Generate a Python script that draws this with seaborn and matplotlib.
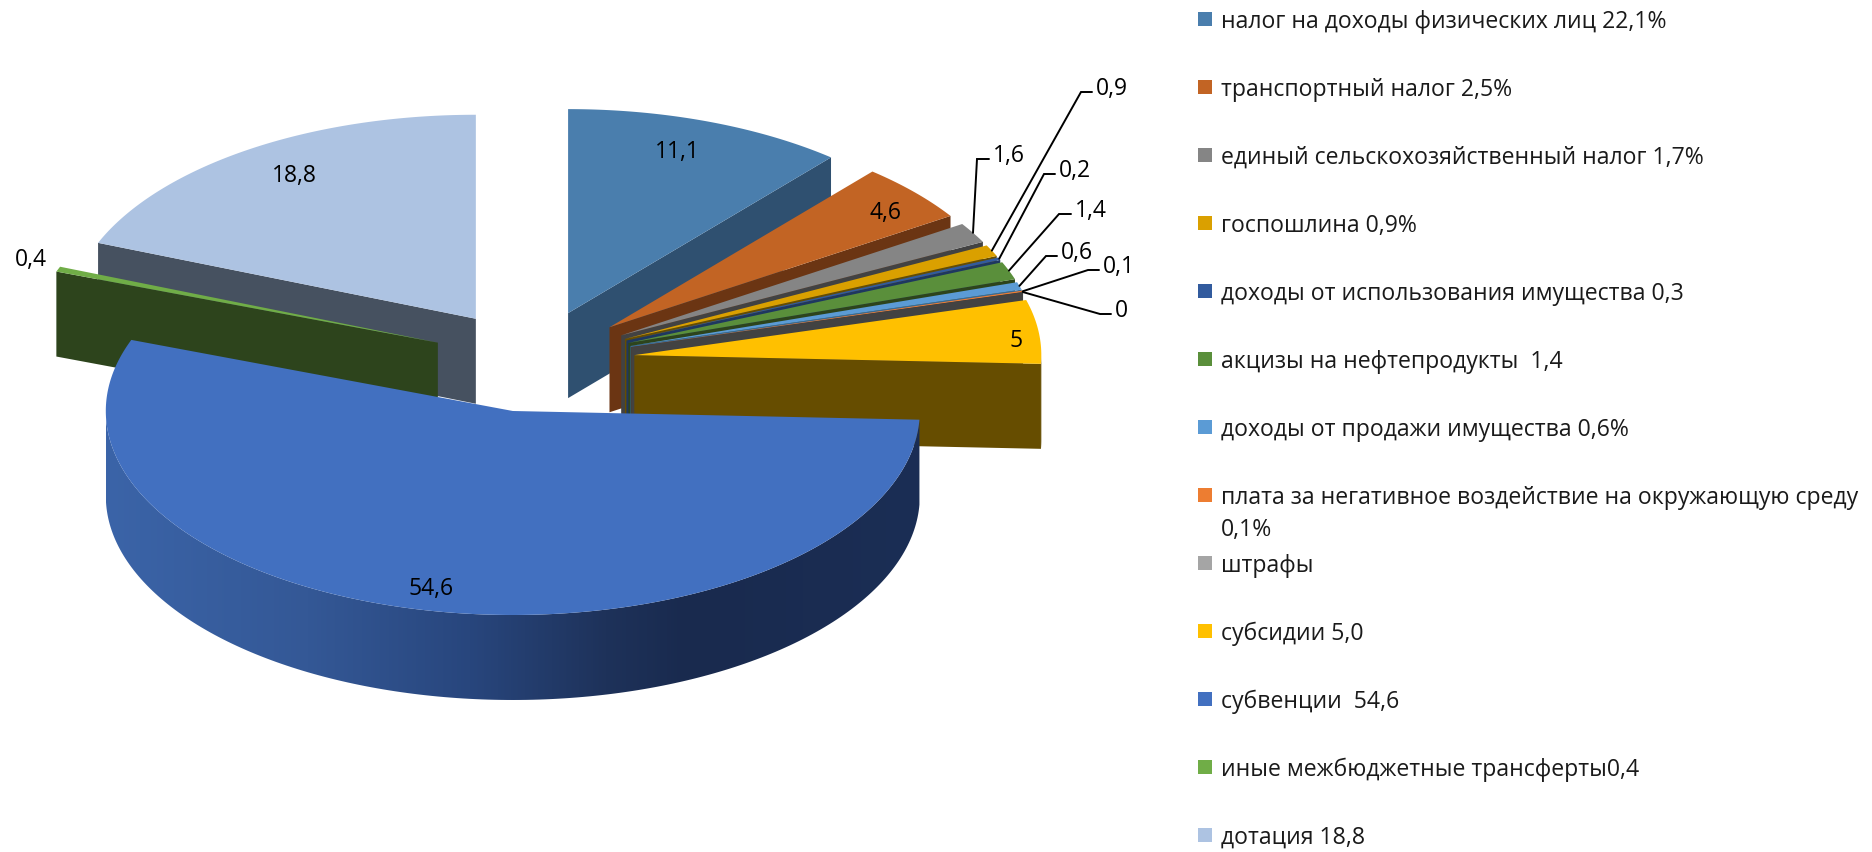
#!/usr/bin/env python3

import numpy as np
import seaborn as sns
import matplotlib.pyplot as plt
from matplotlib.colors import to_rgb
from matplotlib.patches import Polygon

sns.set_theme(style="white")
plt.rcParams["font.family"] = ["Open Sans", "DejaVu Sans"]

# values of the slices, clockwise from the top
values = [11.1, 4.6, 1.6, 0.9, 0.2, 1.4, 0.6, 0.1, 0.0, 5.0, 54.6, 0.4, 18.8]
value_labels = ["11,1", "4,6", "1,6", "0,9", "0,2", "1,4", "0,6", "0,1", "0", "5", "54,6", "0,4", "18,8"]
legend_labels = [
    "налог на доходы физических лиц 22,1%",
    "транспортный налог 2,5%",
    "единый сельскохозяйственный налог 1,7%",
    "госпошлина 0,9%",
    "доходы от использования имущества 0,3",
    "акцизы на нефтепродукты  1,4",
    "доходы от продажи имущества 0,6%",
    "плата за негативное воздействие на окружающую среду\n0,1%",
    "штрафы",
    "субсидии 5,0",
    "субвенции  54,6",
    "иные межбюджетные трансферты0,4",
    "дотация 18,8",
]
colors = ["#4A7EAD", "#C26424", "#858585", "#DAA000", "#325B9E", "#5A8F3B", "#5B9BD5",
          "#ED7D31", "#A5A5A5", "#FFC000", "#4270C0", "#70AD47", "#ADC3E2"]
face_colors = ["#2F5070", "#6B3513", "#424242", "#664D00", "#1E3760", "#2D441C", "#3A6A96",
               "#5F3214", "#424242", "#664D00", "#1E3760", "#2D441C", "#465160"]

# pie geometry in figure pixels
center = (533, 361)
rx, ry, depth = 407, 204, 85
explode = 102
squash = 0.50

# leader lines: index of slice, elbow, end of line
leaders = {
    2: ((977, 159), (989, 159)),
    3: ((1081, 92), (1092, 92)),
    4: ((1044, 174), (1055, 174)),
    5: ((1059, 214), (1071, 214)),
    6: ((1046, 256), (1057, 256)),
    7: ((1088, 270), (1099, 270)),
    8: ((1100, 314), (1111, 314)),
}
# labels sitting on or next to their slice
label_pos = {0: (677, 149), 1: (885, 210), 9: (1016, 338), 10: (431, 586), 11: (31, 257), 12: (294, 173)}

# shading of the big slice's outer wall, left to right
side_x = [106, 307, 470, 606, 687, 919]
side_rgb = ["#3B64A8", "#345896", "#28467D", "#1E325A", "#192A4E", "#1B2E55"]

fig, ax = plt.subplots(figsize=(18.72, 8.52), dpi=100)
fig.subplots_adjust(0, 0, 1, 1)
ax.axis("off")

total = sum(values)
edges = np.cumsum([0] + values) / total * 2 * np.pi
big = int(np.argmax(values))


def apex_of(i):
    mid = (edges[i] + edges[i + 1]) / 2
    return center[0] + explode * np.sin(mid), center[1] - explode * squash * np.cos(mid)


def rim(i, a):
    x0, y0 = apex_of(i)
    return x0 + rx * np.sin(a), y0 - ry * np.cos(a)


def draw_wall(i, lo, hi):
    aa = np.linspace(lo, hi, 200)
    xs, ys = rim(i, aa)
    pts = np.column_stack([np.r_[xs, xs[::-1]], np.r_[ys, ys[::-1] + depth]])
    if i != big:
        ax.fill(pts[:, 0], pts[:, 1], color=face_colors[i], lw=0)
        return
    stops = np.array([to_rgb(c) for c in side_rgb])
    grid = np.linspace(xs.min(), xs.max(), 600)
    ramp = np.stack([np.interp(grid, side_x, stops[:, k]) for k in range(3)], axis=-1)[None, :, :]
    im = ax.imshow(ramp, extent=(xs.min(), xs.max(), ys.max() + depth + 2, ys.min()),
                   aspect="auto", interpolation="bilinear", zorder=1)
    shape = Polygon(pts, closed=True, transform=ax.transData, fc="none", ec="none")
    ax.add_patch(shape)
    im.set_clip_path(shape)


def draw_slice(i):
    x0, y0 = apex_of(i)
    a0, a1 = edges[i], edges[i + 1]
    # cut faces turned to the viewer
    if a1 < np.pi:
        xe, ye = rim(i, a1)
        ax.fill([x0, xe, xe, x0], [y0, ye, ye + depth, y0 + depth], color=face_colors[i], lw=0)
    if a0 > np.pi:
        xe, ye = rim(i, a0)
        ax.fill([x0, xe, xe, x0], [y0, ye, ye + depth, y0 + depth], color=face_colors[i], lw=0)
    # outer wall, only the front half shows
    lo, hi = max(a0, np.pi / 2), min(a1, 3 * np.pi / 2)
    if hi > lo:
        draw_wall(i, lo, hi)
    # top
    aa = np.linspace(a0, a1, max(2, int((a1 - a0) * 80)))
    xs, ys = rim(i, aa)
    ax.fill(np.r_[x0, xs], np.r_[y0, ys], color=colors[i], lw=0)


for i in [12, 11, 0, 1, 2, 3, 4, 5, 6, 7, 8, 9, 10]:
    draw_slice(i)

for i, (x, y) in label_pos.items():
    ax.text(x, y + 3, value_labels[i], ha="center", va="center", fontsize=16.5, color="black")

for i, (elbow, end) in leaders.items():
    xs, ys = rim(i, (edges[i] + edges[i + 1]) / 2)
    ax.plot([xs, elbow[0], end[0]], [ys, elbow[1], end[1]], color="black", lw=1.4, solid_joinstyle="miter")
    ax.text(end[0] + 4, end[1] - 3, value_labels[i], ha="left", va="center", fontsize=16.5, color="black")

# legend, one row every 68 px, the wrapped entry does not push the others down
for i, label in enumerate(legend_labels):
    y = 19 + 68 * i
    ax.fill([1198, 1212, 1212, 1198], [y - 7, y - 7, y + 7, y + 7], color=colors[i], lw=0)
    for k, line in enumerate(label.split("\n")):
        ax.text(1221, y + 3 + 32 * k, line, ha="left", va="center", fontsize=16.6, color="#1a1a1a")

ax.set_xlim(0, 1872)
ax.set_ylim(852, 0)
fig.savefig("out.png", dpi=100)
